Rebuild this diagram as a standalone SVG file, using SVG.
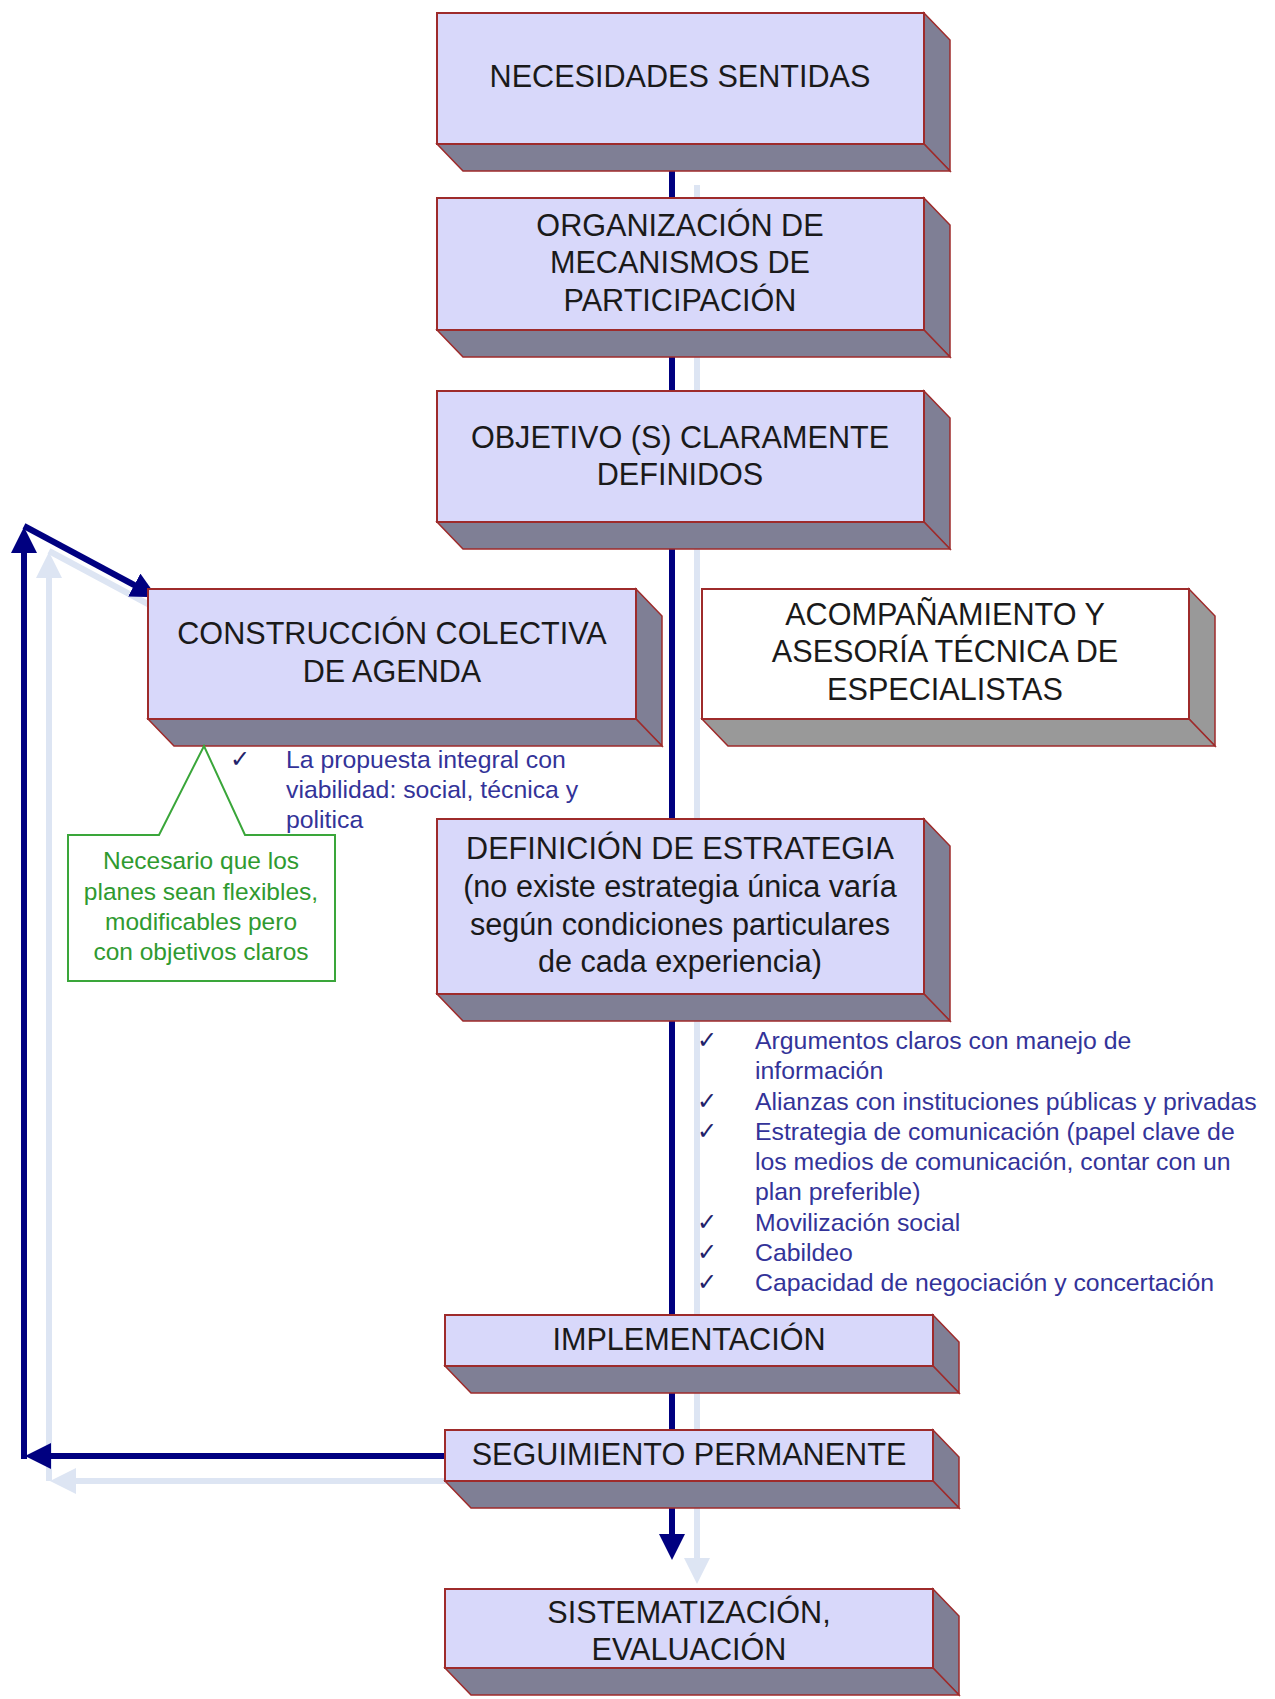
<svg xmlns="http://www.w3.org/2000/svg" width="1275" height="1699" viewBox="0 0 1275 1699">
<style>
.front{fill:#d8d8fa;stroke:#9e2b2b;stroke-width:2}
.frontw{fill:#ffffff;stroke:#9e2b2b;stroke-width:2}
.side{fill:#7f7f95;stroke:#9e2b2b;stroke-width:1.5}
.sideg{fill:#999999;stroke:#9e2b2b;stroke-width:1.5}
.bt{font-family:"Liberation Sans",Arial,sans-serif;font-size:30.6px;fill:#1a1a1a;text-anchor:middle}
.bl{font-family:"Liberation Sans",Arial,sans-serif;font-size:24.8px;fill:#333399}
.ck{font-family:"DejaVu Sans",sans-serif;font-size:24px;fill:#22226a}
.gr{font-family:"Liberation Sans",Arial,sans-serif;font-size:24.5px;fill:#2f9a2f;text-anchor:middle}
.dk{fill:none;stroke:#000080;stroke-width:6}
.lt{fill:none;stroke:#dde5f3;stroke-width:6}
</style>
<defs>
<marker id="ahd" markerUnits="userSpaceOnUse" markerWidth="26" markerHeight="26" viewBox="0 0 26 26" refX="2" refY="13" orient="auto">
<path d="M0,0 L26,13 L0,26 z" fill="#000080"/>
</marker>
<marker id="ahl" markerUnits="userSpaceOnUse" markerWidth="26" markerHeight="26" viewBox="0 0 26 26" refX="2" refY="13" orient="auto">
<path d="M0,0 L26,13 L0,26 z" fill="#dde5f3"/>
</marker>
</defs>
<rect width="1275" height="1699" fill="#ffffff"/>

<g id="connectors">
<path class="lt" d="M697,185 V1560" marker-end="url(#ahl)"/>
<path class="lt" d="M470,1481 H74"  marker-end="url(#ahl)"/>
<path class="lt" d="M49,1481 V576" marker-end="url(#ahl)"/>
<path class="lt" d="M49,551 L161,611" marker-end="url(#ahl)"/>
<path class="dk" d="M672,160 V1536" marker-end="url(#ahd)"/>
<path class="dk" d="M445,1456 H49" marker-end="url(#ahd)"/>
<path class="dk" d="M24,1459 V551" marker-end="url(#ahd)"/>
<path class="dk" d="M24,526 L136,586" marker-end="url(#ahd)"/>
</g>

<g id="n1">
<polygon class="side" points="924,13 950,40 950,171 924,144"/>
<polygon class="side" points="437,144 924,144 950,171 463,171"/>
<rect class="front" x="437" y="13" width="487" height="131"/>
<text class="bt" x="680" y="87">NECESIDADES SENTIDAS</text>
</g>

<g id="n2">
<polygon class="side" points="924,198 950,225 950,357 924,330"/>
<polygon class="side" points="437,330 924,330 950,357 463,357"/>
<rect class="front" x="437" y="198" width="487" height="132"/>
<text class="bt" x="680" y="236">ORGANIZACIÓN DE</text>
<text class="bt" x="680" y="273">MECANISMOS DE</text>
<text class="bt" x="680" y="311">PARTICIPACIÓN</text>
</g>

<g id="n3">
<polygon class="side" points="924,391 950,418 950,549 924,522"/>
<polygon class="side" points="437,522 924,522 950,549 463,549"/>
<rect class="front" x="437" y="391" width="487" height="131"/>
<text class="bt" x="680" y="448">OBJETIVO (S) CLARAMENTE</text>
<text class="bt" x="680" y="485">DEFINIDOS</text>
</g>

<g id="n4">
<polygon class="side" points="636,589 662,616 662,746 636,719"/>
<polygon class="side" points="148,719 636,719 662,746 174,746"/>
<rect class="front" x="148" y="589" width="488" height="130"/>
<text class="bt" x="392" y="644">CONSTRUCCIÓN COLECTIVA</text>
<text class="bt" x="392" y="682">DE AGENDA</text>
</g>

<g id="n5">
<polygon class="sideg" points="1189,589 1215,616 1215,746 1189,719"/>
<polygon class="sideg" points="702,719 1189,719 1215,746 728,746"/>
<rect class="frontw" x="702" y="589" width="487" height="130"/>
<text class="bt" x="945" y="625">ACOMPAÑAMIENTO Y</text>
<text class="bt" x="945" y="662">ASESORÍA TÉCNICA DE</text>
<text class="bt" x="945" y="700">ESPECIALISTAS</text>
</g>

<g id="n6">
<polygon class="side" points="924,819 950,846 950,1021 924,994"/>
<polygon class="side" points="437,994 924,994 950,1021 463,1021"/>
<rect class="front" x="437" y="819" width="487" height="175"/>
<text class="bt" x="680" y="859">DEFINICIÓN DE ESTRATEGIA</text>
<text class="bt" x="680" y="897">(no existe estrategia única varía</text>
<text class="bt" x="680" y="935">según condiciones particulares</text>
<text class="bt" x="680" y="972">de cada experiencia)</text>
</g>

<g id="n7">
<polygon class="side" points="933,1315 959,1342 959,1393 933,1366"/>
<polygon class="side" points="445,1366 933,1366 959,1393 471,1393"/>
<rect class="front" x="445" y="1315" width="488" height="51"/>
<text class="bt" x="689" y="1350">IMPLEMENTACIÓN</text>
</g>

<g id="n8">
<polygon class="side" points="933,1430 959,1457 959,1508 933,1481"/>
<polygon class="side" points="445,1481 933,1481 959,1508 471,1508"/>
<rect class="front" x="445" y="1430" width="488" height="51"/>
<text class="bt" x="689" y="1465">SEGUIMIENTO PERMANENTE</text>
</g>

<g id="n9">
<polygon class="side" points="933,1589 959,1616 959,1695 933,1668"/>
<polygon class="side" points="445,1668 933,1668 959,1695 471,1695"/>
<rect class="front" x="445" y="1589" width="488" height="79"/>
<text class="bt" x="689" y="1623">SISTEMATIZACIÓN,</text>
<text class="bt" x="689" y="1660">EVALUACIÓN</text>
</g>

<g id="callout">
<path d="M68,835 H159 L204,746 L245,835 H335 V981 H68 Z" fill="#ffffff" stroke="#3aa63a" stroke-width="2"/>
<text class="gr" x="201" y="869">Necesario que los</text>
<text class="gr" x="201" y="900">planes sean flexibles,</text>
<text class="gr" x="201" y="930">modificables pero</text>
<text class="gr" x="201" y="960">con objetivos claros</text>
</g>

<g id="notes1">
<text class="ck" x="230" y="767">✓</text>
<text class="bl" x="286" y="768">La propuesta integral con</text>
<text class="bl" x="286" y="798">viabilidad: social, técnica y</text>
<text class="bl" x="286" y="828">politica</text>
</g>

<g id="notes2">
<text class="ck" x="697" y="1048">✓</text>
<text class="bl" x="755" y="1049">Argumentos claros con manejo de</text>
<text class="bl" x="755" y="1079">información</text>
<text class="ck" x="697" y="1109">✓</text>
<text class="bl" x="755" y="1110">Alianzas con instituciones públicas y privadas</text>
<text class="ck" x="697" y="1139">✓</text>
<text class="bl" x="755" y="1140">Estrategia de comunicación (papel clave de</text>
<text class="bl" x="755" y="1170">los medios de comunicación, contar con un</text>
<text class="bl" x="755" y="1200">plan preferible)</text>
<text class="ck" x="697" y="1230">✓</text>
<text class="bl" x="755" y="1231">Movilización social</text>
<text class="ck" x="697" y="1260">✓</text>
<text class="bl" x="755" y="1261">Cabildeo</text>
<text class="ck" x="697" y="1290">✓</text>
<text class="bl" x="755" y="1291">Capacidad de negociación y concertación</text>
</g>
</svg>
